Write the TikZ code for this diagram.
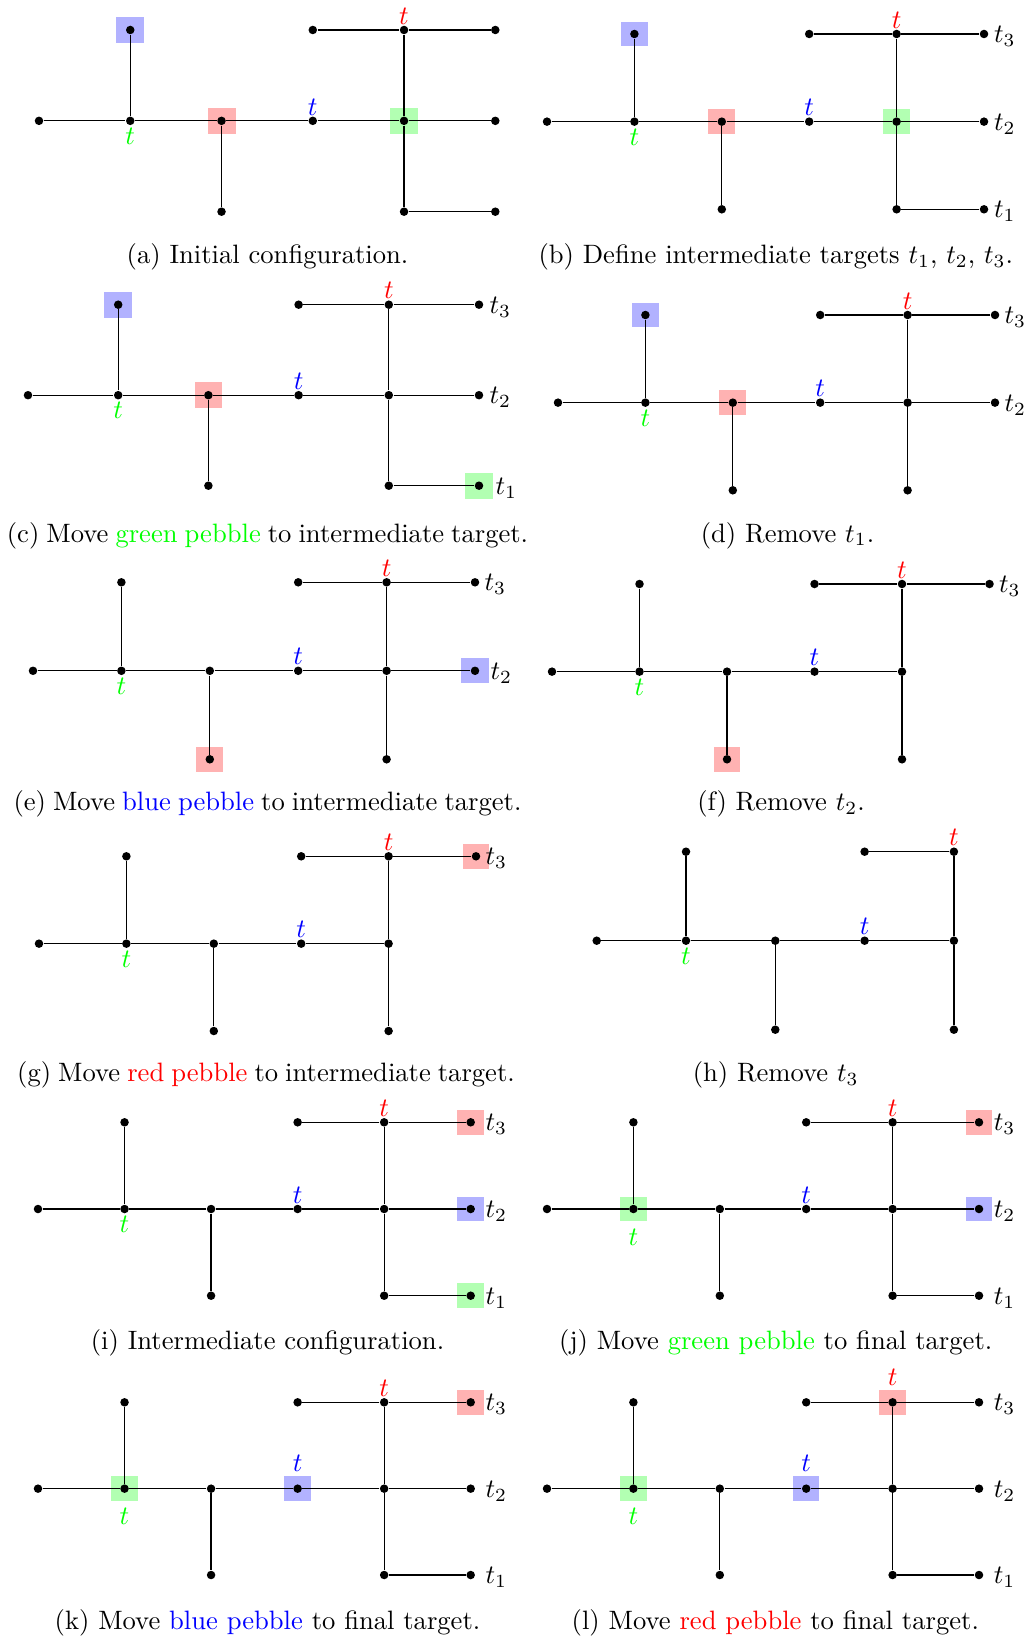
\documentclass[tikz,border=0pt]{standalone}
\usepackage{xcolor}
\pgfdeclarelayer{back}
\pgfdeclarelayer{bg}
\pgfsetlayers{back,bg,main}
\def\pxu{0.376pt}
\def\cursx{90}\def\cursy{90}
\tikzset{
  treedot/.style={circle, fill=black, inner sep=0pt, minimum size=3.2pt},
  treeline/.style={line width=0.45pt, black},
  tlabel/.style={inner sep=0pt, anchor=center},
  ilab/.style={inner sep=0pt, anchor=base west},
  capt/.style={inner sep=0pt, anchor=base},
  tightcapt/.style={capt, execute at begin node={\spaceskip=2.65pt\relax}},
  pebblebox/.style={rectangle, inner sep=0pt, draw=none,
    minimum width={0.307*\cursx*\pxu}, minimum height={0.285*\cursy*\pxu}},
}
% prefix, x0, y0, sx, sy, level (0 full, 1 no t1, 2 no t1 t2, 3 none)
\newcommand\drawtree[6]{%
\def\cursx{#4}\def\cursy{#5}%
\begin{scope}[shift={(#2,#3)}, x={#4*\pxu}, y={-#5*\pxu}]
 \node[treedot] (#1-01) at (0,1) {};
 \node[treedot] (#1-10) at (1,0) {};
 \node[treedot] (#1-11) at (1,1) {};
 \node[treedot] (#1-21) at (2,1) {};
 \node[treedot] (#1-22) at (2,2) {};
 \node[treedot] (#1-30) at (3,0) {};
 \node[treedot] (#1-31) at (3,1) {};
 \node[treedot] (#1-40) at (4,0) {};
 \node[treedot] (#1-41) at (4,1) {};
 \node[treedot] (#1-42) at (4,2) {};
 \ifnum#6<3 \node[treedot] (#1-50) at (5,0) {};\fi
 \ifnum#6<2 \node[treedot] (#1-51) at (5,1) {};\fi
 \ifnum#6<1 \node[treedot] (#1-52) at (5,2) {};\fi
 \draw[treeline] (#1-01) -- (#1-11);
 \draw[treeline] (#1-11) -- (#1-21);
 \draw[treeline] (#1-21) -- (#1-31);
 \draw[treeline] (#1-31) -- (#1-41);
 \draw[treeline] (#1-11) -- (#1-10);
 \draw[treeline] (#1-21) -- (#1-22);
 \draw[treeline] (#1-30) -- (#1-40);
 \draw[treeline] (#1-40) -- (#1-41);
 \draw[treeline] (#1-41) -- (#1-42);
 \ifnum#6<3 \draw[treeline] (#1-40) -- (#1-50);\fi
 \ifnum#6<2 \draw[treeline] (#1-41) -- (#1-51);\fi
 \ifnum#6<1 \draw[treeline] (#1-42) -- (#1-52);\fi
\end{scope}}
\newcommand\pebble[2]{\begin{pgfonlayer}{bg}\node[pebblebox, fill=#2] (#1-peb) at (#1) {};\end{pgfonlayer}}
% prefix, red offset, blue offset, green offset
\newcommand\tlabels[4]{%
 \node[tlabel, text=red] (#1-tr) at ([yshift=#2]#1-40) {$t$};
 \node[tlabel, text=blue] (#1-tb) at ([yshift=#3]#1-31) {$t$};
 \node[tlabel, text=green] (#1-tg) at ([yshift=-#4]#1-11) {$t$};}
\newcommand\ilabel[3]{\node[ilab] (#1-lab) at ([xshift=#2, yshift=-3.2pt]#1) {$t_#3$};}
\begin{document}
\begin{tikzpicture}[x=\pxu, y=-\pxu]
\begin{pgfonlayer}{back}
\fill[white] (0,0) rectangle (1025,1639);
\end{pgfonlayer}
\useasboundingbox (0,0) rectangle (1025,1639);

% (a)
\drawtree{a}{39}{30}{91.26}{90.85}{0}
\pebble{a-10}{blue!30}\pebble{a-21}{red!30}\pebble{a-41}{green!30}
\tlabels{a}{5.26pt}{5.26pt}{5.83pt}
\node[capt] (capa) at (267.5,263.5) {(a) Initial configuration.};

% (b)
\drawtree{b}{547}{34}{87.4}{87.65}{0}
\pebble{b-10}{blue!30}\pebble{b-21}{red!30}\pebble{b-41}{green!30}
\tlabels{b}{5.26pt}{5.26pt}{5.83pt}
\ilabel{b-50}{3.57pt}{3}\ilabel{b-51}{3.57pt}{2}\ilabel{b-52}{3.57pt}{1}
\node[capt] (capb) at (775.8,263.5) {(b) Define intermediate targets $t_1$, $t_2$, $t_3$.};

% (c)
\drawtree{c}{28}{304.7}{90.2}{90.5}{0}
\pebble{c-10}{blue!30}\pebble{c-21}{red!30}\pebble{c-52}{green!30}
\tlabels{c}{5.26pt}{5.26pt}{5.83pt}
\ilabel{c-50}{3.76pt}{3}\ilabel{c-51}{3.76pt}{2}\ilabel{c-52}{6.02pt}{1}
\node[tightcapt] (capc) at (267.5,542) {(c) Move \textcolor{green}{green pebble} to intermediate target.};

% (d)
\drawtree{d}{558}{315}{87.4}{87.65}{1}
\pebble{d-10}{blue!30}\pebble{d-21}{red!30}
\tlabels{d}{5.26pt}{5.26pt}{5.83pt}
\ilabel{d-50}{3.38pt}{3}\ilabel{d-51}{3.38pt}{2}
\node[capt] (capd) at (787.5,542) {(d) Remove $t_1$.};

% (e)
\drawtree{e}{33}{582.3}{88.4}{88.5}{1}
\pebble{e-51}{blue!30}\pebble{e-22}{red!30}
\tlabels{e}{5.26pt}{5.26pt}{5.83pt}
\ilabel{e-50}{3.38pt}{3}\ilabel{e-51}{5.64pt}{2}
\node[tightcapt] (cape) at (267.5,810.5) {(e) Move \textcolor{blue}{blue pebble} to intermediate target.};

% (f)
\drawtree{f}{552}{584}{87.5}{87.65}{2}
\pebble{f-22}{red!30}
\tlabels{f}{5.26pt}{5.26pt}{5.83pt}
\ilabel{f-50}{3.38pt}{3}
\node[capt] (capf) at (781,810.5) {(f) Remove $t_2$.};

% (g)
\drawtree{g}{39}{856.3}{87.4}{87.35}{2}
\pebble{g-50}{red!30}
\tlabels{g}{5.26pt}{5.26pt}{5.83pt}
\ilabel{g-50}{3.38pt}{3}
\node[tightcapt] (capg) at (266,1081.5) {(g) Move \textcolor{red}{red pebble} to intermediate target.};

% (h)
\drawtree{h}{596.7}{851.7}{89.3}{89}{3}
\tlabels{h}{5.26pt}{5.26pt}{5.83pt}
\node[capt] (caph) at (775.7,1081.5) {(h) Remove $t_3$};

% (i)
\drawtree{i}{38}{1122.3}{86.54}{86.7}{0}
\pebble{i-50}{red!30}\pebble{i-51}{blue!30}\pebble{i-52}{green!30}
\tlabels{i}{5.26pt}{5.26pt}{5.83pt}
\ilabel{i-50}{5.38pt}{3}\ilabel{i-51}{5.38pt}{2}\ilabel{i-52}{5.38pt}{1}
\node[capt] (capi) at (267.5,1349.3) {(i) Intermediate configuration.};

% (j)
\drawtree{j}{547}{1122.3}{86.4}{86.7}{0}
\pebble{j-11}{green!30}\pebble{j-50}{red!30}\pebble{j-51}{blue!30}
\tlabels{j}{5.26pt}{5.26pt}{10.53pt}
\ilabel{j-50}{5.38pt}{3}\ilabel{j-51}{5.38pt}{2}\ilabel{j-52}{5.38pt}{1}
\node[capt] (capj) at (775.7,1349.3) {(j) Move \textcolor{green}{green pebble} to final target.};

% (k)
\drawtree{k}{38}{1402.3}{86.54}{86.35}{0}
\pebble{k-11}{green!30}\pebble{k-31}{blue!30}\pebble{k-50}{red!30}
\tlabels{k}{5.26pt}{9.4pt}{10.53pt}
\ilabel{k-50}{5.38pt}{3}\ilabel{k-51}{5.38pt}{2}\ilabel{k-52}{5.38pt}{1}
\node[capt] (capk) at (267.5,1629) {(k) Move \textcolor{blue}{blue pebble} to final target.};

% (l)
\drawtree{l}{547}{1402.3}{86.4}{86.35}{0}
\pebble{l-11}{green!30}\pebble{l-31}{blue!30}\pebble{l-40}{red!30}
\tlabels{l}{9.4pt}{9.4pt}{10.53pt}
\ilabel{l-50}{5.38pt}{3}\ilabel{l-51}{5.38pt}{2}\ilabel{l-52}{5.38pt}{1}
\node[capt] (capl) at (775.3,1629) {(l) Move \textcolor{red}{red pebble} to final target.};
\end{tikzpicture}
\end{document}
